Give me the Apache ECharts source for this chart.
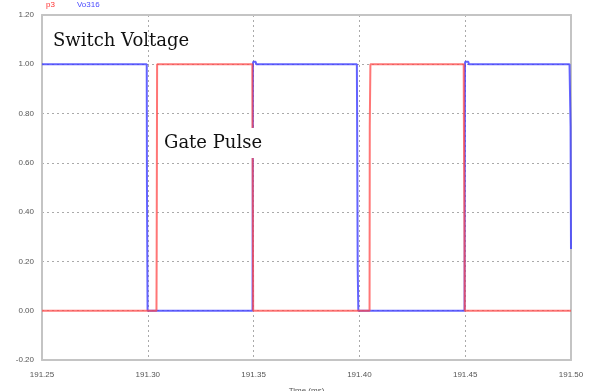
<!DOCTYPE html>
<html><head><meta charset="utf-8">
<script src="https://cdn.jsdelivr.net/npm/echarts@6/dist/echarts.min.js"></script>
<style>html,body{margin:0;padding:0;background:#fff}#c{width:591px;height:391px}</style>
</head><body><div id="c"></div>
<script>
const xTicks = ['191.25','191.30','191.35','191.40','191.45','191.50'];
const yTicks = ['-0.20','0.00','0.20','0.40','0.60','0.80','1.00','1.20'];
const vTime = [191.25,191.2995,191.2996,191.2999,191.3495,191.3497,191.3498,191.351,191.3512,191.3988,191.3989,191.3992,191.3995,191.4497,191.4499,191.45,191.4515,191.4517,191.4993,191.4998,191.5];
const vVal  = [1.0,1.0,0.51,0.0,0.0,1.0,1.01,1.01,1.0,1.0,0.83,0.17,0.0,0.0,1.0,1.01,1.01,1.0,1.0,0.75,0.25];
const pTime = [191.25,191.3041,191.3042,191.3044,191.3494,191.3495,191.3497,191.3498,191.4048,191.4049,191.4052,191.4493,191.4494,191.4497,191.4498,191.5];
const pVal  = [0,0,0.25,1.0,1.0,0.75,0.25,0,0,0.75,1.0,1.0,0.75,0.25,0,0];
const zip = (a,b)=>a.map((t,i)=>[t,b[i]]);
const chart = echarts.init(document.getElementById('c'));
const lblStyle = {color:'#555', fontSize:8, fontFamily:'Liberation Sans'};
const border = {show:true,onZero:false,lineStyle:{color:'#c4c4c4',width:2}};
chart.setOption({
  animation:false,
  grid:{left:42,right:20,top:15,bottom:31,containLabel:false,outerBoundsMode:'none'},
  legend:{left:40,top:0,itemWidth:0,itemHeight:0,itemGap:16,padding:[1,0],
    data:[{name:'p3',textStyle:{color:'#ff3030'}},{name:'Vo316',textStyle:{color:'#4a4aff'}}],
    textStyle:{fontSize:8,fontFamily:'Liberation Sans'}},
  xAxis:[{type:'value',min:191.25,max:191.50,interval:0.05,
    name:'Time (ms)',nameLocation:'middle',nameGap:27,nameTextStyle:{color:'#555',fontSize:8},
    axisLine:border,axisTick:{show:false},
    axisLabel:{...lblStyle,margin:11,formatter:v=>xTicks[Math.round((v-191.25)/0.05)]},
    splitLine:{show:true,lineStyle:{color:'#aaa',type:[2,3]}}},
    {type:'value',position:'top',min:191.25,max:191.50,interval:0.05,
     axisLine:border,axisTick:{show:false},axisLabel:{show:false},splitLine:{show:false}}],
  yAxis:[{type:'value',min:-0.2,max:1.2,interval:0.2,
    axisLine:border,axisTick:{show:false},
    axisLabel:{...lblStyle,margin:8,formatter:v=>yTicks[Math.round((v+0.2)/0.2)]},
    splitLine:{show:true,lineStyle:{color:'#aaa',type:[2,3]}}},
    {type:'value',position:'right',min:-0.2,max:1.2,interval:0.2,
     axisLine:border,axisTick:{show:false},axisLabel:{show:false},splitLine:{show:false}}],
  series:[
    {name:'Vo316',type:'line',data:zip(vTime,vVal),showSymbol:false,symbol:'none',
      lineStyle:{color:'#3c3cff',width:2,opacity:0.8},itemStyle:{color:'#4a4aff'}},
    {name:'p3',type:'line',data:zip(pTime,pVal),showSymbol:false,symbol:'none',
      lineStyle:{color:'#ff4848',width:2,opacity:0.75},itemStyle:{color:'#ff3030'}}
  ],
  graphic:[
    {type:'text',left:53,top:32,z:100,style:{text:'Switch Voltage',font:'18px "DejaVu Serif"',fill:'#111'}},
    {type:'text',left:161,top:128,z:100,style:{text:'Gate Pulse',font:'18px "DejaVu Serif"',fill:'#111',
      backgroundColor:'#fff',padding:[6,3,6,3]}}
  ]
});
</script></body></html>
